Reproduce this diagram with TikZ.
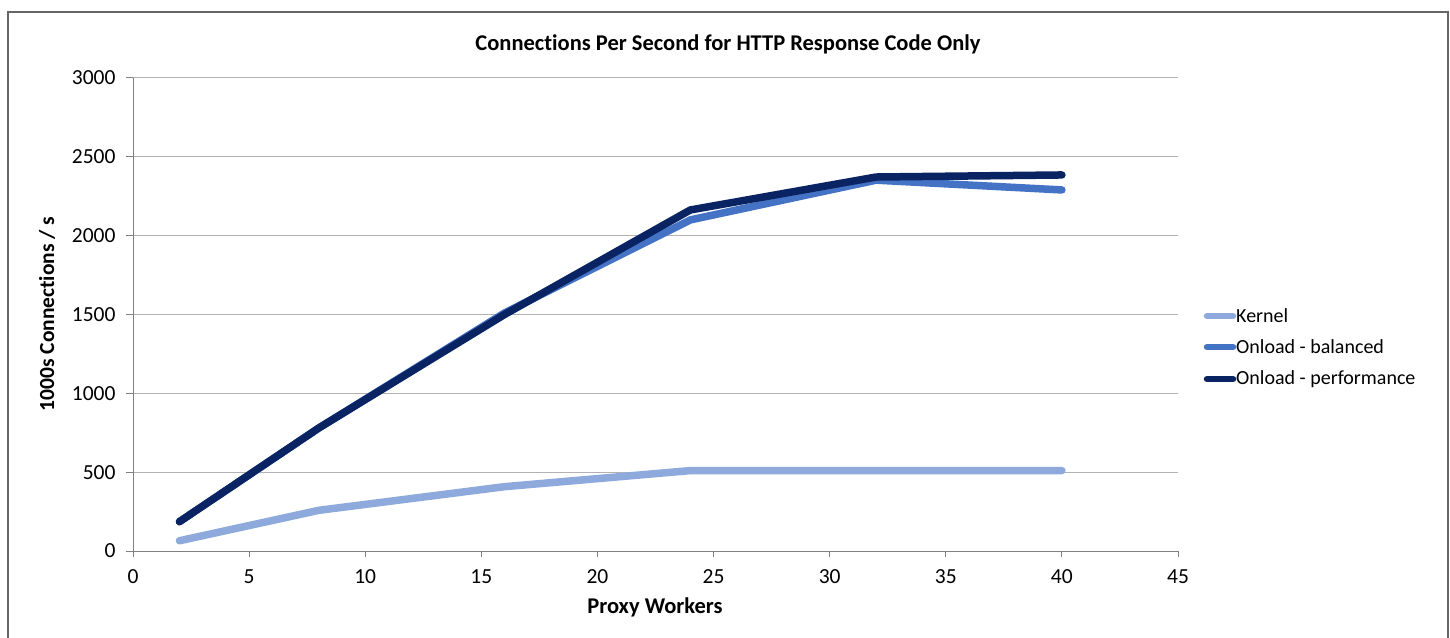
\documentclass[tikz,border=0pt]{standalone}
\usepackage{fontspec}
\setmainfont{Carlito}[Ligatures=NoCommon]
\begin{document}
\begin{tikzpicture}[x=1pt,y=-1pt,
  grid/.style={draw=black!30,line width=1pt},
  axisline/.style={draw=black!50,line width=1pt},
  tick/.style={font=\fontsize{21.5}{24}\selectfont},
  series/.style={line width=7.5pt,line cap=round,line join=round},
  kern/.style={series,draw=kernelc},
  bal/.style={series,draw=balc},
  perf/.style={series,draw=perfc},
  legtext/.style={anchor=west,font=\fontsize{20}{23}\selectfont,inner sep=0pt},
  bold/.style={font=\bfseries\fontsize{22.5}{26}\selectfont}]
\definecolor{kernelc}{HTML}{8EAADC}
\definecolor{balc}{HTML}{4472C4}
\definecolor{perfc}{HTML}{0A2463}
\useasboundingbox (0,0) rectangle (1450,637);
\fill[white] (0,0) rectangle (1450,637);
\draw[black!60,line width=2pt] (8,12) rectangle (1448,660);
\node[bold] (title) at (728,44) {Connections Per Second for HTTP Response Code Only};
\node[bold,rotate=90,font=\bfseries\fontsize{21.5}{25}\selectfont] (ylab) at (47,314) {1000s Connections / s};
\node[bold] (xlab) at (655,607) {Proxy Workers};
\begin{scope}[shift={(133pt,-551pt)},x=23.222pt,y=0.15767pt]
  \foreach \v in {500,1000,...,3000} \draw[grid] (0,\v) -- (45,\v);
  \foreach \v in {0,500,...,3000} {
    \draw[axisline] (-0.28,\v) -- (0,\v);
    \node[tick,anchor=east] at (-0.6,\v) {\v};
  }
  \draw[axisline] (0,0) -- (0,3000);
  \draw[axisline] (0,0) -- (45,0);
  \foreach \t in {0,5,...,45} {
    \draw[axisline] (\t,0) -- (\t,-38);
    \node[tick] at (\t,-165) {\t};
  }
  \draw[kern] (2,65) -- (8,258) -- (16,408) -- (24,510) -- (32,510) -- (40,510);
  \draw[bal] (2,186) -- (8,780) -- (16,1510) -- (24,2100) -- (32,2352) -- (40,2290);
  \draw[perf] (2,186) -- (8,780) -- (16,1500) -- (24,2163) -- (32,2372) -- (40,2385);
\end{scope}
\draw[kern,line width=6.5pt] (1207,316) -- (1233,316);
\node[legtext] (lk) at (1236,316) {Kernel};
\draw[bal,line width=6.5pt] (1207,347) -- (1233,347);
\node[legtext] (lb) at (1236,347) {Onload - balanced};
\draw[perf,line width=6.5pt] (1207,379) -- (1233,379);
\node[legtext] (lp) at (1236,379) {Onload - performance};
\end{tikzpicture}
\end{document}
